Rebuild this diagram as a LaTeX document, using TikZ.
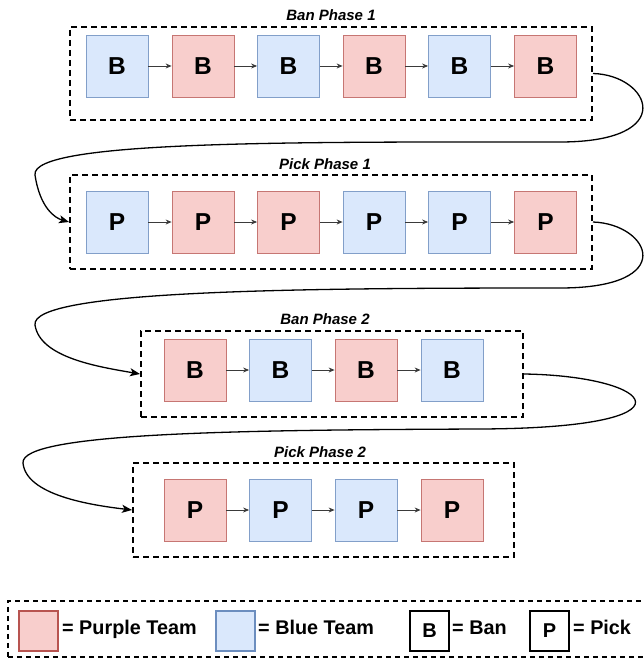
\documentclass[tikz,border=0pt]{standalone}
\usepackage{fontspec}
\setmainfont{Liberation Sans}
\usetikzlibrary{arrows.meta}
\definecolor{pinkfill}{HTML}{F8CECC}
\definecolor{pinkline}{HTML}{B85450}
\definecolor{bluefill}{HTML}{DAE8FC}
\definecolor{blueline}{HTML}{6C8EBF}
\definecolor{flowgray}{HTML}{3A3A3A}
\tikzset{
  sqbase/.style={rectangle, minimum width=62pt, minimum height=62pt, inner sep=0pt, line width=0.8pt, font=\fontsize{24.5}{28}\selectfont\bfseries},
  redsq/.style={sqbase, fill=pinkfill, draw=pinkline!80},
  bluesq/.style={sqbase, fill=bluefill, draw=blueline!85},
  phasebox/.style={rectangle, draw=black, line width=2pt, dash pattern=on 6pt off 4pt, inner sep=0pt},
  phasetitle/.style={inner sep=0pt, font=\fontsize{15}{18}\selectfont\bfseries\itshape},
  flow/.style={draw=flowgray, line width=0.9pt, -{Stealth[length=6pt,width=5pt,fill=black]}},
  link/.style={draw=black, line width=1.3pt, -{Stealth[length=10pt,width=8pt,inset=2.5pt]}},
  legendbox/.style={rectangle, draw=black, line width=1.5pt, dash pattern=on 5pt off 4pt, inner sep=0pt},
  legsq/.style={rectangle, minimum width=39pt, minimum height=40pt, inner sep=0pt, line width=2pt, font=\fontsize{20}{24}\selectfont\bfseries},
  legtext/.style={anchor=base west, inner sep=0pt, font=\fontsize{19.8}{24}\selectfont\bfseries}
}
\begin{document}
\begin{tikzpicture}[x=1pt,y=-1pt]
\useasboundingbox (0,0) rectangle (644,658);
\clip (0,0) rectangle (644,658);

% phase boxes
\node[phasebox, minimum width=522pt, minimum height=93pt] (ph1) at (331,73.5) {};
\node[phasebox, minimum width=522pt, minimum height=94pt] (ph2) at (331,222) {};
\node[phasebox, minimum width=382pt, minimum height=86pt] (ph3) at (332,374) {};
\node[phasebox, minimum width=381pt, minimum height=94pt] (ph4) at (323.5,510) {};

% titles
\node[phasetitle] (t1) at (331,15.5) {Ban Phase 1};
\node[phasetitle] (t2) at (325,164) {Pick Phase 1};
\node[phasetitle] (t3) at (325,319) {Ban Phase 2};
\node[phasetitle] (t4) at (320,452.5) {Pick Phase 2};

% row 1
\node[bluesq] (a1) at (117,66) {B};
\node[redsq]  (a2) at (203,66) {B};
\node[bluesq] (a3) at (288.5,66) {B};
\node[redsq]  (a4) at (374,66) {B};
\node[bluesq] (a5) at (459.5,66) {B};
\node[redsq]  (a6) at (545.5,66) {B};
% row 2
\node[bluesq] (b1) at (117,222) {P};
\node[redsq]  (b2) at (203,222) {P};
\node[redsq]  (b3) at (288.5,222) {P};
\node[bluesq] (b4) at (374,222) {P};
\node[bluesq] (b5) at (459.5,222) {P};
\node[redsq]  (b6) at (545.5,222) {P};
% row 3
\node[redsq]  (c1) at (195,370) {B};
\node[bluesq] (c2) at (280.5,370) {B};
\node[redsq]  (c3) at (366,370) {B};
\node[bluesq] (c4) at (452,370) {B};
% row 4
\node[redsq]  (d1) at (195,510) {P};
\node[bluesq] (d2) at (280.5,510) {P};
\node[bluesq] (d3) at (366,510) {P};
\node[redsq]  (d4) at (452,510) {P};

% flows inside phases
\foreach \p/\q in {a1/a2,a2/a3,a3/a4,a4/a5,a5/a6,b1/b2,b2/b3,b3/b4,b4/b5,b5/b6,c1/c2,c2/c3,c3/c4,d1/d2,d2/d3,d3/d4}
  \draw[flow] (\p.east) -- (\q.west);

% links between phases
\draw[link] (ph1.east) .. controls (650,75) and (680,142) .. (560,142)
  .. controls (300,142) and (30,140) .. (35,175)
  .. controls (40,208) and (55,218) .. (ph2.west);
\draw[link] (ph2.east) .. controls (650,224) and (680,288) .. (560,288)
  .. controls (300,288) and (30,290) .. (35,325)
  .. controls (40,358) and (100,367) .. (ph3.west);
\draw[link] (ph3.east) .. controls (655,376) and (705,428) .. (480,429)
  .. controls (250,430) and (20,432) .. (23,463)
  .. controls (26,495) and (90,505) .. (ph4.west);

% legend
\node[legendbox, anchor=north west, minimum width=680pt, minimum height=56pt] (leg) at (7,600) {};
\node[legsq, fill=pinkfill, draw=pinkline] (lp) at (38.5,631) {};
\node[legtext] (lpt) at (62,634.5) {= Purple Team};
\node[legsq, fill=bluefill, draw=blueline] (lb) at (235,631) {};
\node[legtext] (lbt) at (258,634.5) {= Blue Team};
\node[legsq, fill=white, draw=black] (lban) at (429.5,631) {B};
\node[legtext] (lbant) at (452,634.5) {= Ban};
\node[legsq, fill=white, draw=black] (lpick) at (549.5,631) {P};
\node[legtext] (lpickt) at (573,634.5) {= Pick};
\end{tikzpicture}
\end{document}
